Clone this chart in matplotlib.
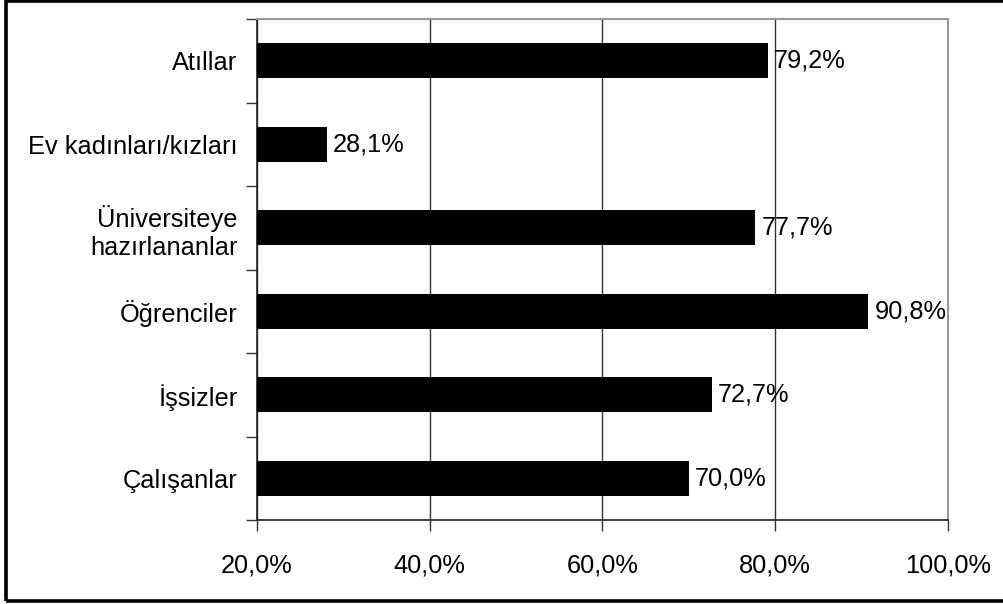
import matplotlib
matplotlib.use('Agg')
import matplotlib.pyplot as plt
from matplotlib.patches import Rectangle

plt.rcParams['font.family'] = ['Liberation Sans', 'DejaVu Sans']

categories = ['Çalışanlar', 'İşsizler', 'Öğrenciler', 'Üniversiteye\nhazırlananlar',
              'Ev kadınları/kızları', 'Atıllar']
values = [70.0, 72.7, 90.8, 77.7, 28.1, 79.2]
xticks = [20, 40, 60, 80, 100]
FS = 18.3

fig = plt.figure(figsize=(10.04, 6.04), dpi=100)
ax = fig.add_axes([0.256, 0.139, 0.688, 0.8295])

# outer frame of the chart (right side is cut off in the reference)
fig.patches.append(Rectangle((6 / 1004, 3 / 604), 1.1, (601 - 1) / 604, transform=fig.transFigure,
                             fill=False, edgecolor='black', lw=2.6, clip_on=False))

ypos = range(len(categories))
ax.barh(ypos, values, height=0.42, color='black', zorder=3)
for y, v in zip(ypos, values):
    ax.text(v + 0.7, y, f'{v:.1f}%'.replace('.', ','), va='center', ha='left', fontsize=FS, zorder=4)

ax.set_xlim(20, 100)
ax.set_ylim(-0.5, len(categories) - 0.5)
ax.set_xticks(xticks)
ax.set_xticklabels([f'{t:.1f}%'.replace('.', ',') for t in xticks], fontsize=FS)
ax.set_yticks(list(ypos))
ax.set_yticklabels(categories, fontsize=FS)
ax.tick_params(axis='y', length=0, pad=14)
ax.set_yticks([i - 0.5 for i in range(len(categories) + 1)], minor=True)
ax.tick_params(axis='y', which='minor', length=8, width=1, color='#333333')
ax.tick_params(axis='x', length=8, width=1, pad=16, color='#333333')

ax.grid(axis='x', color='#333333', lw=1, zorder=1)
ax.spines['left'].set_color('#222222')
ax.spines['bottom'].set_color('#222222')
ax.spines['left'].set_linewidth(1.2)
ax.spines['bottom'].set_linewidth(1.2)
ax.spines['top'].set_color('#999999')
ax.spines['right'].set_color('#999999')
ax.spines['top'].set_linewidth(1.5)
ax.spines['right'].set_linewidth(1.5)

fig.savefig('out.png', dpi=100)
